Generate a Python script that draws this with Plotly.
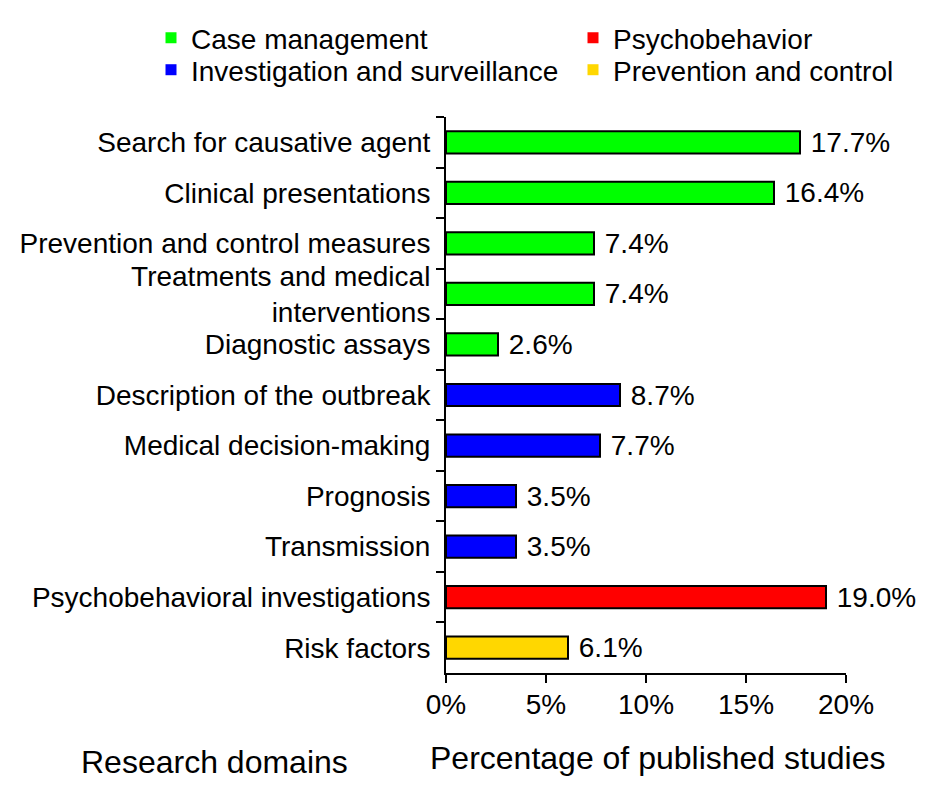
import plotly.graph_objects as go

# research domains, top to bottom
domains = [
    'Search for causative agent',
    'Clinical presentations',
    'Prevention and control measures',
    'Treatments and medical<br>interventions',
    'Diagnostic assays',
    'Description of the outbreak',
    'Medical decision-making',
    'Prognosis',
    'Transmission',
    'Psychobehavioral investigations',
    'Risk factors',
]
percent = [17.7, 16.4, 7.4, 7.4, 2.6, 8.7, 7.7, 3.5, 3.5, 19.0, 6.1]
group = ['Case management'] * 5 + ['Investigation and surveillance'] * 4 + \
        ['Psychobehavior', 'Prevention and control']

group_names = ['Case management', 'Investigation and surveillance',
               'Psychobehavior', 'Prevention and control']
colors = {'Case management': '#00ff00',
          'Investigation and surveillance': '#0000ff',
          'Psychobehavior': '#ff0000',
          'Prevention and control': '#ffd700'}

FONT = 'Liberation Sans, Arial, sans-serif'

# one small legend per group so the 2x2 layout can be placed freely
legend_pos = {'Case management': ('legend', -0.7375, 1.142),
              'Investigation and surveillance': ('legend2', -0.7375, 1.0845),
              'Psychobehavior': ('legend3', 0.3175, 1.142),
              'Prevention and control': ('legend4', 0.3175, 1.0845)}

fig = go.Figure()

for g in group_names:
    ys = [d for d, gg in zip(domains, group) if gg == g]
    xs = [p for p, gg in zip(percent, group) if gg == g]
    fig.add_trace(go.Bar(
        x=xs, y=ys, orientation='h',
        marker=dict(color=colors[g], line=dict(color='black', width=2)),
        width=0.44,
        text=[f' {v:.1f}%' for v in xs],
        textposition='outside',
        constraintext='none',
        textfont=dict(size=28, color='black', family=FONT),
        cliponaxis=False,
        showlegend=False,
        hoverinfo='x+y',
    ))
    # legend entry: small square without border
    fig.add_trace(go.Scatter(
        x=[None], y=[None], mode='markers', name=g,
        marker=dict(symbol='square', size=11, color=colors[g]),
        legend=legend_pos[g][0],
    ))

legends = {}
for g in group_names:
    key, lx, ly = legend_pos[g]
    legends[key] = dict(x=lx, y=ly, xanchor='left', yanchor='middle',
                        font=dict(size=28), itemwidth=30,
                        bgcolor='rgba(0,0,0,0)')

fig.update_layout(
    width=933, height=800,
    # page body adds 8px offset, so margins are shifted by 8px
    margin=dict(l=438, r=95, t=109, b=135, autoexpand=False),
    plot_bgcolor='white', paper_bgcolor='white',
    font=dict(family=FONT, size=28, color='black'),
    barmode='overlay',
    xaxis=dict(range=[0, 20], tickvals=[0, 5, 10, 15, 20],
               ticktext=['0%', '5%', '10%', '15%', '20%'],
               showgrid=False, zeroline=False,
               showline=True, linecolor='black', linewidth=2,
               ticks='outside', ticklen=8, tickwidth=2, tickcolor='black',
               tickfont=dict(size=28), ticklabelstandoff=-3),
    yaxis=dict(categoryorder='array', categoryarray=domains,
               autorange='reversed', showgrid=False,
               showline=True, linecolor='black', linewidth=2,
               ticks='outside', tickson='boundaries', ticklen=8,
               tickwidth=2, tickcolor='black',
               tickfont=dict(size=28), ticklabelstandoff=8),
    **legends,
)

fig.add_annotation(text='Research domains', xref='paper', yref='paper',
                   x=-0.58, y=-0.160, xanchor='center', yanchor='middle',
                   showarrow=False, font=dict(size=32))
fig.add_annotation(text='Percentage of published studies', xref='paper', yref='paper',
                   x=0.5275, y=-0.153, xanchor='center', yanchor='middle',
                   showarrow=False, font=dict(size=32))

fig.write_html('out.html')
